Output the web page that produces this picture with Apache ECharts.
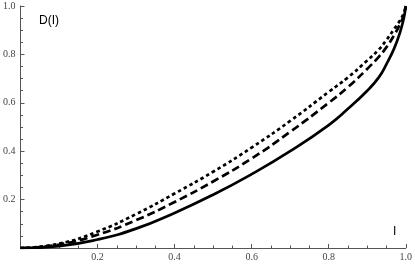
<!DOCTYPE html>
<html><head><meta charset="utf-8">
<script src="https://cdn.jsdelivr.net/npm/echarts@6/dist/echarts.min.js"></script>
<style>html,body{margin:0;padding:0;background:#fff}#c{width:415px;height:266px}</style>
</head><body><div id="c"></div>
<script>
const xTicks = [0, 0.2, 0.4, 0.6, 0.8, 1.0];
const yTicks = [0, 0.2, 0.4, 0.6, 0.8, 1.0];
const xs      = [0, 0.1, 0.2, 0.3, 0.4, 0.5, 0.6, 0.7, 0.8, 0.85, 0.9, 0.93, 0.95, 0.97, 0.985, 0.995, 1.0];
const solidY  = [0, 0.008, 0.035, 0.08, 0.145, 0.22, 0.305, 0.4, 0.508, 0.575, 0.65, 0.705, 0.76, 0.825, 0.89, 0.95, 1.0];
const dashY   = [0, 0.014, 0.055, 0.115, 0.19, 0.275, 0.37, 0.48, 0.6, 0.665, 0.74, 0.79, 0.83, 0.88, 0.925, 0.962, 1.0];
const dotY    = [0, 0.018, 0.068, 0.14, 0.225, 0.315, 0.415, 0.525, 0.645, 0.705, 0.775, 0.82, 0.86, 0.905, 0.94, 0.972, 1.0];

const zip = (a, b) => a.map((x, i) => [x, b[i]]);
const chart = echarts.init(document.getElementById('c'), null, {renderer: 'canvas'});
const axisCommon = {
  min: 0, max: 1.0, interval: 0.2,
  axisLine: {show: true, onZero: false, lineStyle: {color: '#555', width: 1}},
  axisTick: {show: true, inside: true, length: 4, lineStyle: {color: '#555'}},
  minorTick: {show: true, splitNumber: 4, length: 2.5, lineStyle: {color: '#555'}},
  splitLine: {show: false},
  axisLabel: {fontFamily: 'Liberation Serif', fontSize: 10, color: '#444',
    formatter: v => (Math.abs(v) < 1e-9 ? '' : v.toFixed(1))}
};
const line = (data, type) => ({
  type: 'line', data, showSymbol: false, smooth: 0.5,
  lineStyle: {color: '#000', width: 2.7, type, cap: 'butt'}, animation: false
});
chart.setOption({
  animation: false,
  grid: {left: 20, right: 9, top: 6, bottom: 18},
  xAxis: Object.assign({type: 'value'}, axisCommon, {axisLabel: Object.assign({}, axisCommon.axisLabel, {margin: 4})}),
  yAxis: Object.assign({type: 'value'}, axisCommon, {axisLabel: Object.assign({}, axisCommon.axisLabel, {margin: 5})}),
  series: [
    line(zip(xs, solidY), 'solid'),
    line(zip(xs, dashY), [8, 4]),
    line(zip(xs, dotY), [3.5, 3])
  ],
  graphic: [
    {type: 'text', left: 39, top: 15, style: {text: 'D(I)', font: '12px "Liberation Sans"', fill: '#000'}},
    {type: 'text', left: 393, top: 226, style: {text: 'I', font: '12px "Liberation Sans"', fill: '#000'}}
  ]
});
</script></body></html>
